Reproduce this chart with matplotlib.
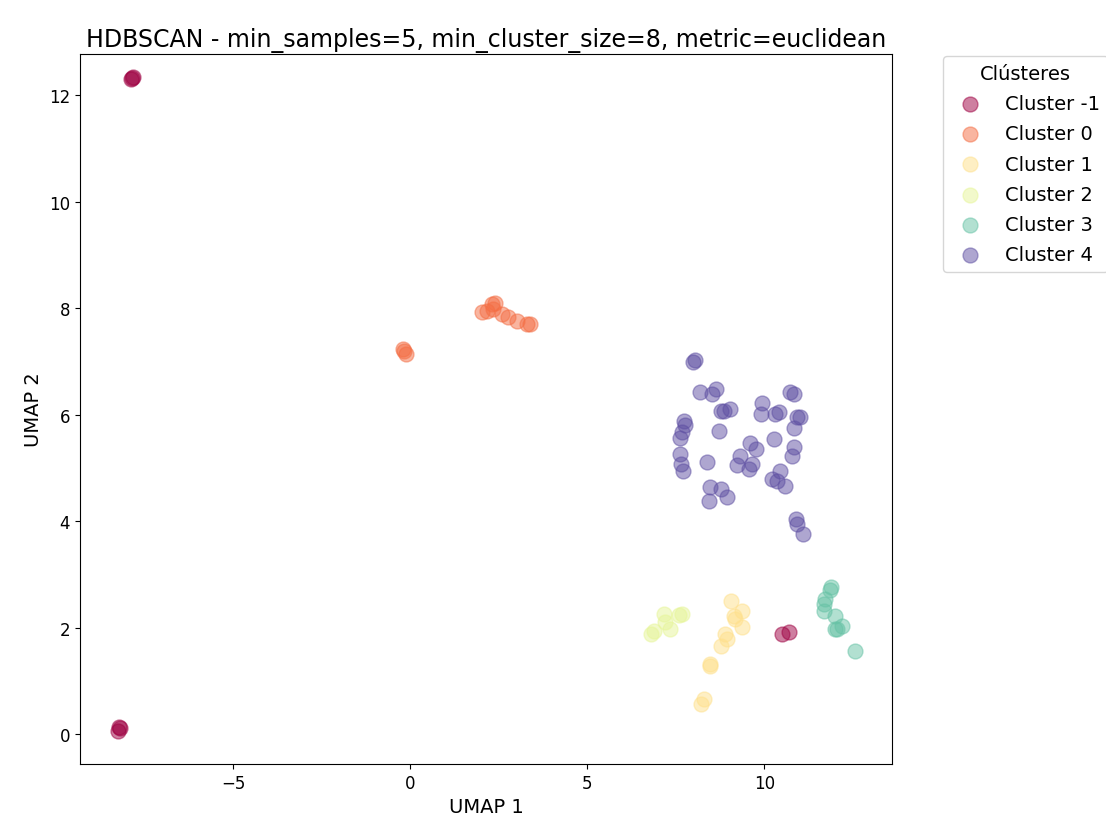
import numpy as np
import matplotlib.pyplot as plt

# Coordenadas UMAP por clúster
labels = [-1, 0, 1, 2, 3, 4]

x_m1 = [-7.85, -7.83, -7.87, -8.20, -8.25, -8.22, 10.50, 10.70]
y_m1 = [12.33, 12.35, 12.31, 0.11, 0.06, 0.13, 1.88, 1.92]

x_c0 = [-0.17, -0.11, -0.20, 2.02, 2.17, 2.31, 2.40, 2.35, 2.59, 2.77, 3.01, 3.30, 3.39]
y_c0 = [7.20, 7.14, 7.24, 7.93, 7.96, 8.08, 8.11, 7.99, 7.89, 7.84, 7.77, 7.71, 7.71]

x_c1 = [9.07, 9.37, 9.13, 9.18, 9.37, 8.90, 8.93, 8.78, 8.47, 8.45, 8.29, 8.22]
y_c1 = [2.51, 2.32, 2.22, 2.16, 2.01, 1.88, 1.79, 1.66, 1.28, 1.32, 0.66, 0.56]

x_c2 = [7.16, 7.67, 7.60, 7.34, 7.20, 6.87, 6.80]
y_c2 = [2.26, 2.26, 2.24, 1.97, 2.10, 1.94, 1.88]

x_c3 = [11.88, 11.86, 11.72, 11.69, 11.68, 12.00, 12.19, 12.05, 12.00, 12.57]
y_c3 = [2.76, 2.70, 2.54, 2.44, 2.32, 2.22, 2.04, 1.97, 1.98, 1.57]

x_c4 = [7.98, 8.05, 8.19, 8.52, 8.62, 8.76, 8.85, 9.04, 8.71, 7.72, 7.77, 7.67,
        7.61, 7.63, 7.65, 7.70, 8.38, 8.47, 8.76, 8.43, 8.93, 9.60, 9.75, 9.32,
        9.23, 9.65, 9.56, 9.93, 9.89, 10.31, 10.40, 10.26, 10.22, 10.45, 10.36,
        10.59, 10.73, 10.83, 10.92, 11.00, 10.83, 10.83, 10.78, 10.88, 10.92, 11.09]
y_c4 = [7.00, 7.03, 6.42, 6.39, 6.48, 6.08, 6.08, 6.11, 5.70, 5.89, 5.80, 5.67,
        5.56, 5.26, 5.08, 4.95, 5.12, 4.64, 4.61, 4.39, 4.45, 5.48, 5.36, 5.23,
        5.06, 5.08, 4.98, 6.23, 6.02, 6.02, 6.05, 5.55, 4.79, 4.95, 4.76,
        4.67, 6.42, 6.39, 5.95, 5.95, 5.76, 5.39, 5.23, 4.04, 3.95, 3.76]

xs = [x_m1, x_c0, x_c1, x_c2, x_c3, x_c4]
ys = [y_m1, y_c0, y_c1, y_c2, y_c3, y_c4]

colors = plt.cm.Spectral(np.linspace(0, 1, len(labels)))

fig = plt.figure(figsize=(11.06, 8.29), dpi=100)
ax = fig.add_axes([0.0723, 0.0772, 0.7342, 0.8565])

for lab, x, y, c in zip(labels, xs, ys, colors):
    ax.scatter(x, y, color=c, s=115, alpha=0.5, label=f'Cluster {lab}')

ax.set_xlim(-9.32, 13.6)
ax.set_ylim(-0.56, 12.78)
ax.set_title('HDBSCAN - min_samples=5, min_cluster_size=8, metric=euclidean', fontsize=17)
ax.set_xlabel('UMAP 1', fontsize=14)
ax.set_ylabel('UMAP 2', fontsize=14)
ax.tick_params(labelsize=12)
ax.legend(title='Clústeres', bbox_to_anchor=(1.06, 1), loc='upper left',
          fontsize=14, title_fontsize=14, borderaxespad=0.1, labelspacing=0.58)

fig.savefig('out.png', dpi=100)
